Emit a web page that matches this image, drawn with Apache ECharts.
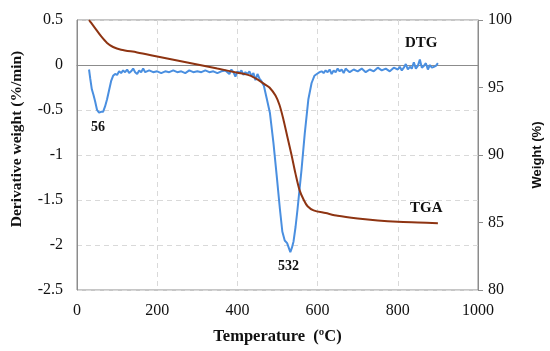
<!DOCTYPE html>
<html>
<head>
<meta charset="utf-8">
<script src="https://cdn.jsdelivr.net/npm/echarts@6/dist/echarts.min.js"></script>
<style>html,body{margin:0;padding:0;background:#fff;}#c{width:550px;height:351px;}</style>
</head>
<body>
<div id="c"></div>
<script>
var xTicks = [0, 200, 400, 600, 800, 1000];
var leftTicks = [-2.5, -2, -1.5, -1, -0.5, 0, 0.5];
var rightTicks = [80, 85, 90, 95, 100];

var dtgTemp = [30,33,37,41,45,50,55,60,65,70,75,80,85,90,95,100,105,110,115,120,125,130,135,140,145,150,155,160,165,170,180,190,200,210,220,230,240,250,260,270,280,290,300,310,320,330,340,350,360,370,380,385,390,395,400,405,410,415,420,425,430,435,440,445,450,455,460,466,473,481,490,498,506,512,518,524,528,532,536,540,545,550,555,560,568,577,585,592,598,605,610,615,620,625,630,635,640,645,650,655,660,665,670,675,680,690,700,710,720,730,740,750,760,770,780,790,800,805,810,815,820,825,830,835,840,845,850,855,860,865,870,875,880,885,890,895,900];
var dtgValue = [-0.05,-0.15,-0.27,-0.33,-0.40,-0.50,-0.53,-0.52,-0.52,-0.46,-0.38,-0.28,-0.18,-0.12,-0.10,-0.11,-0.07,-0.09,-0.06,-0.08,-0.05,-0.09,-0.07,-0.04,-0.08,-0.10,-0.06,-0.08,-0.04,-0.08,-0.06,-0.08,-0.07,-0.09,-0.07,-0.08,-0.06,-0.08,-0.07,-0.09,-0.06,-0.08,-0.07,-0.08,-0.06,-0.08,-0.07,-0.09,-0.07,-0.06,-0.10,-0.05,-0.08,-0.13,-0.07,-0.09,-0.06,-0.11,-0.08,-0.10,-0.07,-0.12,-0.09,-0.17,-0.10,-0.15,-0.18,-0.23,-0.37,-0.53,-0.87,-1.23,-1.60,-1.85,-1.95,-1.98,-2.03,-2.08,-2.03,-1.96,-1.80,-1.60,-1.38,-1.16,-0.76,-0.38,-0.20,-0.12,-0.10,-0.08,-0.07,-0.09,-0.06,-0.08,-0.05,-0.10,-0.06,-0.08,-0.04,-0.07,-0.05,-0.09,-0.04,-0.06,-0.08,-0.05,-0.07,-0.04,-0.08,-0.05,-0.07,-0.03,-0.06,-0.04,-0.07,-0.03,-0.05,-0.02,-0.06,-0.03,0.01,-0.05,-0.02,-0.04,0.03,-0.04,-0.01,0.06,-0.03,-0.01,0.02,-0.05,0.00,-0.03,-0.02,-0.01,0.02];

var tgaTemp = [30,35,45,60,75,90,110,150,200,250,300,350,400,430,450,470,480,495,505,515,525,535,545,555,565,575,590,620,650,700,750,800,850,900];
var tgaValue = [100.0,99.8,99.4,98.8,98.3,98.0,97.8,97.6,97.3,97.0,96.7,96.4,96.1,95.9,95.6,95.2,95.0,94.4,93.7,92.6,91.3,90.0,88.6,87.4,86.7,86.2,85.9,85.7,85.5,85.3,85.15,85.05,85.0,84.95];

function pairs(xs, ys){ return xs.map(function(x,i){ return [x, ys[i]]; }); }

var serif = '"Liberation Serif", "Times New Roman", serif';
var chart = echarts.init(document.getElementById('c'), null, {renderer:'canvas'});
chart.setOption({
  animation: false,
  backgroundColor: '#fff',
  grid: {left: 77, right: 72, top: 20, bottom: 61, containLabel: false, outerBoundsMode: 'none',
         show: true, borderColor: '#8c8c8c', borderWidth: 1},
  xAxis: {
    type: 'value', min: xTicks[0], max: xTicks[xTicks.length-1], interval: 200,
    name: 'Temperature  (ºC)', nameLocation: 'middle', nameGap: 38,
    nameTextStyle: {fontFamily: serif, fontWeight: 'bold', fontSize: 16.5, color: '#111'},
    axisLine: {show: true, lineStyle: {color: '#8c8c8c'}},
    axisTick: {show: false},
    axisLabel: {fontFamily: serif, fontSize: 16, color: '#111', margin: 13, formatter: function(v){ return String(v); }},
    splitLine: {show: true, lineStyle: {color: '#d9d9d9', type: [5,4]}}
  },
  yAxis: [{
    type: 'value', min: leftTicks[0], max: leftTicks[leftTicks.length-1], interval: 0.5,
    axisLine: {show: true, lineStyle: {color: '#8c8c8c'}},
    axisTick: {show: false},
    axisLabel: {fontFamily: serif, fontSize: 16, color: '#111', margin: 14, formatter: function(v){ return String(v); }},
    splitLine: {show: true, lineStyle: {color: '#d9d9d9', type: [5,4]}}
  }, {
    type: 'value', min: rightTicks[0], max: rightTicks[rightTicks.length-1], interval: 5, position: 'right',
    name: 'Weight (%)', nameLocation: 'middle', nameGap: 53, nameRotate: 90,
    nameTextStyle: {fontFamily: '"Liberation Sans", Arial, sans-serif', fontWeight: 'bold', fontSize: 13, color: '#111'},
    axisLine: {show: true, lineStyle: {color: '#8c8c8c'}},
    axisTick: {show: true, inside: false, length: 5, lineStyle: {color: '#8c8c8c'}},
    axisLabel: {fontFamily: serif, fontSize: 16, color: '#111', margin: 10},
    splitLine: {show: false}
  }],
  series: [{
    name: 'DTG', type: 'line', yAxisIndex: 0, data: pairs(dtgTemp, dtgValue),
    showSymbol: false, smooth: false,
    lineStyle: {color: '#4a8fe0', width: 2}
  }, {
    name: 'TGA', type: 'line', yAxisIndex: 1, data: pairs(tgaTemp, tgaValue),
    showSymbol: false, smooth: 0.3,
    lineStyle: {color: '#8e3412', width: 2}
  }],
  graphic: [
    {type: 'text', x: 17, y: 139, rotation: Math.PI/2,
     style: {text: 'Derivative weight (%/min)', font: 'bold 15.5px ' + serif, fill: '#111', align: 'center', verticalAlign: 'middle'}},
    {type: 'text', left: 405, top: 36, style: {text: 'DTG', font: 'bold 15px ' + serif, fill: '#111'}},
    {type: 'text', left: 410, top: 201, style: {text: 'TGA', font: 'bold 15px ' + serif, fill: '#111'}},
    {type: 'text', left: 91, top: 120, style: {text: '56', font: 'bold 14px ' + serif, fill: '#111'}},
    {type: 'text', left: 278, top: 259, style: {text: '532', font: 'bold 14px ' + serif, fill: '#111'}}
  ]
});
</script>
</body>
</html>
